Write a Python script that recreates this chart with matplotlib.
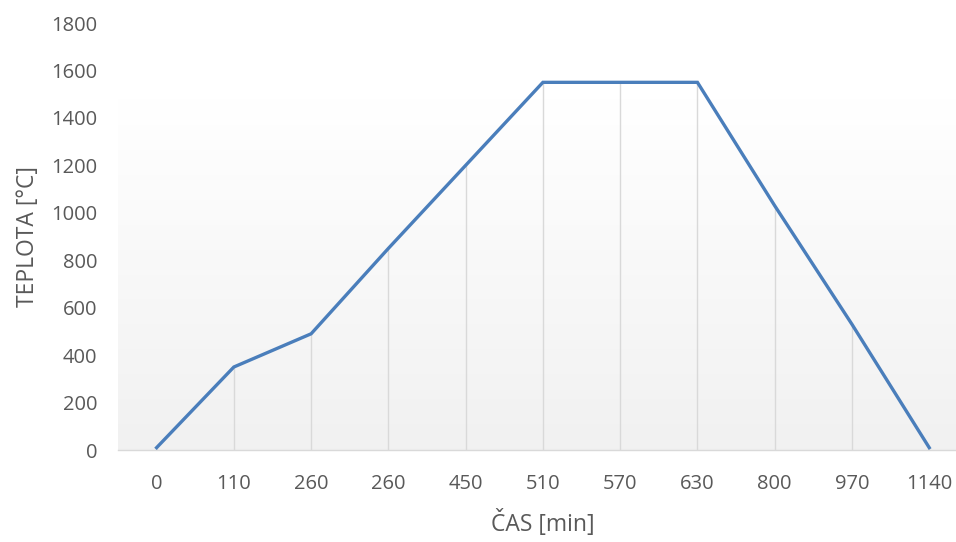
import numpy as np
import matplotlib
matplotlib.use("Agg")
import matplotlib.pyplot as plt

# data
cas_labels = ["0", "110", "260", "260", "450", "510", "570", "630", "800", "970", "1140"]
teplota = [10, 350, 490, 850, 1200, 1550, 1550, 1550, 1030, 530, 10]

plt.rcParams['font.family'] = ['Open Sans', 'DejaVu Sans']

fig = plt.figure(figsize=(9.56, 5.42), dpi=100)
ax = fig.add_axes([0.1234, 0.1697, 0.889, 0.7878])

x = np.arange(len(cas_labels))
ax.set_xlim(-0.5, len(cas_labels) - 0.5)
ax.set_ylim(0, 1800)

# plot area gradient, white at top to light grey at bottom
grad = np.linspace(0, 1, 256).reshape(-1, 1)
shade = 1.0 - 0.055 * np.clip((grad - 0.18) / 0.82, 0, 1)
img = np.dstack([shade, shade, shade])
ax.imshow(img, extent=[-0.5, len(cas_labels) - 0.5, 0, 1800], aspect='auto',
          origin='upper', zorder=0)

# drop lines
ax.vlines(x, 0, teplota, color='#d9d9d9', linewidth=1.0, zorder=1)

ax.plot(x, teplota, color='#4a7ebb', linewidth=2.4, solid_joinstyle='miter', zorder=3)

ax.set_xticks(x)
ax.set_xticklabels(cas_labels)
ax.set_yticks(np.arange(0, 1801, 200))
ax.tick_params(axis='both', length=0, labelsize=14.5, colors='#595959')
ax.tick_params(axis='x', pad=17)
ax.tick_params(axis='y', pad=15)

for s in ['top', 'right', 'left']:
    ax.spines[s].set_visible(False)
ax.spines['bottom'].set_color('#d9d9d9')
ax.spines['bottom'].set_linewidth(1.0)

ax.set_xlabel('ČAS [min]', fontsize=16.5, color='#595959', labelpad=12)
ax.set_ylabel('TEPLOTA [°C]', fontsize=16.5, color='#595959', labelpad=8)

plt.savefig('out.png', dpi=100)
